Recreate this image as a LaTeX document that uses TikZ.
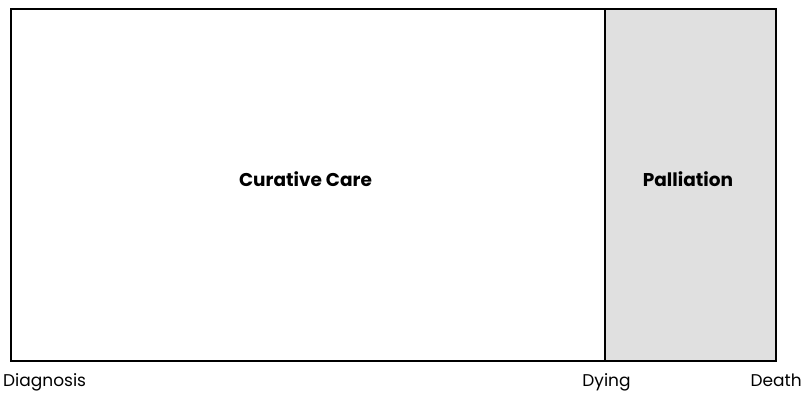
\documentclass[tikz,border=0pt]{standalone}
\usepackage{fontspec}
\setmainfont{Poppins}
\begin{document}
\begin{tikzpicture}[x=1pt,y=-1pt,
  frame/.style={draw=black,line width=1.6pt},
  phase/.style={font=\fontsize{18.5}{20}\selectfont\bfseries,anchor=base,inner sep=0pt},
  mark label/.style={font=\fontsize{17}{19}\selectfont,anchor=base,inner sep=0pt}]
  \useasboundingbox (0,0) rectangle (804,395);
  % palliative phase shaded
  \fill[fill={rgb,255:red,224;green,224;blue,224}] (605,9) rectangle (776,361);
  \draw[frame] (11,9) rectangle (776,361);
  \draw[frame] (605,9) -- (605,361);
  \node[phase] (cure) at (305.5,187) {Curative Care};
  \node[phase] (pall) at (688,187) {Palliation};
  \node[mark label,anchor=base west] (diag) at (3,387) {Diagnosis};
  \node[mark label] (dying) at (606.5,387) {Dying};
  \node[mark label,anchor=base east] (death) at (802,387) {Death};
\end{tikzpicture}
\end{document}
